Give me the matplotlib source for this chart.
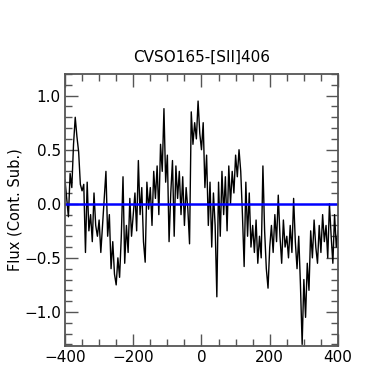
import numpy as np
import matplotlib
matplotlib.use('Agg')
import matplotlib.pyplot as plt
from matplotlib.ticker import MultipleLocator

# velocity grid (km/s) and continuum-subtracted flux
vel = np.arange(-400, 401, 5)
flux = [
    0.22, 0.05, -0.12, 0.28, 0.15, 0.55, 0.80, 0.62, 0.48, 0.18,
    0.12, 0.18, -0.45, 0.20, -0.25, -0.10, -0.35, 0.10, -0.20, -0.30,
    -0.15, -0.45, -0.20, 0.05, 0.30, -0.30, -0.10, -0.60, -0.35, -0.65,
    -0.75, -0.50, -0.68, -0.30, 0.25, -0.55, -0.20, -0.45, 0.05, -0.30,
    -0.10, 0.10, -0.25, 0.40, -0.10, 0.15, -0.35, -0.54, 0.20, -0.05,
    0.15, -0.20, 0.30, 0.05, 0.35, -0.10, 0.55, 0.30, 0.88, 0.20,
    0.45, -0.35, 0.10, 0.40, -0.30, 0.35, 0.05, 0.30, -0.10, 0.25,
    -0.20, 0.15, -0.05, -0.37, 0.85, 0.55, 0.75, 0.60, 0.95, 0.65,
    0.50, 0.75, 0.15, 0.45, -0.20, 0.20, -0.40, 0.10, -0.20, -0.86,
    0.20, -0.30, 0.30, -0.10, 0.25, -0.25, 0.35, 0.00, 0.30, 0.10,
    0.45, 0.25, 0.50, 0.30, -0.10, -0.58, 0.20, -0.30, 0.10, -0.40,
    -0.20, -0.45, -0.15, -0.55, -0.30, -0.50, 0.35, -0.25, -0.60, -0.78,
    -0.40, -0.20, -0.45, -0.10, -0.35, 0.08, -0.30, -0.55, -0.15, -0.40,
    -0.30, -0.50, -0.20, -0.45, 0.05, -0.35, -0.60, -0.30, -0.75, -1.30,
    -0.70, -1.05, -0.55, -0.80, -0.25, -0.50, -0.15, -0.40, -0.55, -0.20,
    -0.45, -0.10, -0.35, -0.20, -0.50, 0.00, -0.30, -0.55, -0.10, -0.40,
    -0.25,
]
zero_x = [-400, 400]
zero_y = [0, 0]

fig = plt.figure(figsize=(3.77, 3.69), dpi=100)
ax = fig.add_axes([0.1724, 0.0623, 0.7241, 0.7371])

ax.plot(vel, flux, color='k', lw=1.0)
ax.plot(zero_x, zero_y, color='#0000ff', lw=1.8)

ax.set_xlim(-400, 400)
ax.set_ylim(-1.315, 1.2)
ax.xaxis.set_major_locator(MultipleLocator(200))
ax.xaxis.set_minor_locator(MultipleLocator(50))
ax.yaxis.set_major_locator(MultipleLocator(0.5))
ax.yaxis.set_minor_locator(MultipleLocator(0.1))
ax.tick_params(which='both', direction='in', top=True, right=True,
               color='#555555', labelsize=11, width=1.0)
ax.tick_params(which='major', length=9, pad=3)
ax.tick_params(which='minor', length=5)
for s in ax.spines.values():
    s.set_color('#555555')
    s.set_linewidth(1.3)

ax.set_title('CVSO165-[SII]406', fontsize=11, pad=9)
ax.set_ylabel('Flux (Cont. Sub.)', fontsize=10.5)
ax.yaxis.set_label_coords(-0.157, 0.5)
# only the top of the superscript peeks in at the bottom edge
ax.set_xlabel('v (km s$^{-1}$)', fontsize=11, labelpad=3)

fig.savefig('out.png', dpi=100)
